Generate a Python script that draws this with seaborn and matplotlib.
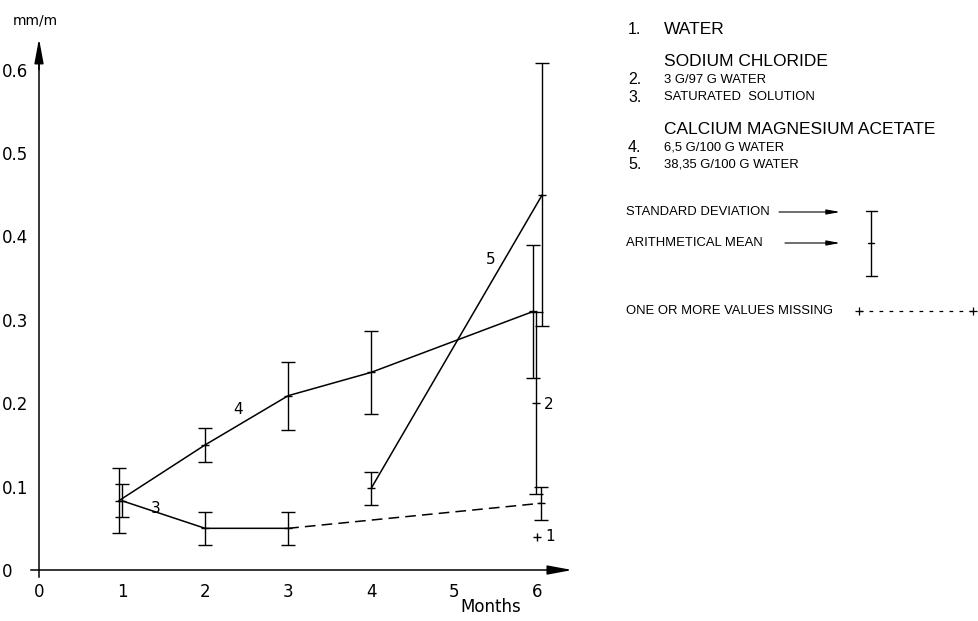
import numpy as np
import pandas as pd
import seaborn as sns
import matplotlib.pyplot as plt
from matplotlib.lines import Line2D

# values (mm/m)
# 4. calcium magnesium acetate 6,5 g/100 g water
cma_low_months = [1, 2, 3, 4, 6]
cma_low_mean = [0.083, 0.150, 0.209, 0.237, 0.310]
cma_low_sd = [0.039, 0.020, 0.041, 0.050, 0.080]

# 5. calcium magnesium acetate 38,35 g/100 g water
cma_high_months = [4, 6]
cma_high_mean = [0.098, 0.450]
cma_high_sd = [0.020, 0.158]

# 3. sodium chloride, saturated solution (values missing after month 3)
nacl_sat_months = [1, 2, 3, 6]
nacl_sat_mean = [0.083, 0.050, 0.050, 0.080]
nacl_sat_sd = [0.020, 0.020, 0.020, 0.020]

# 2. sodium chloride 3 g/97 g water
nacl_low_months = [6]
nacl_low_mean = [0.200]
nacl_low_sd = [0.109]

# 1. water
water_months = [6]
water_mean = [0.039]

x_ticks = [0, 1, 2, 3, 4, 5, 6]
y_ticks = [0, 0.1, 0.2, 0.3, 0.4, 0.5, 0.6]
y_ticklabels = ['0', '0.1', '0.2', '0.3', '0.4', '0.5', '0.6']

# small sideways shifts so bars at the same month don't overlap
dodge_m1 = {'4': -0.04, '3': 0.0}
dodge_m6 = {'4': -0.05, '2': -0.01, '1': 0.0, '3': 0.04, '5': 0.06}


def xpos(months, key):
    out = []
    for m in months:
        if m == 1:
            out.append(m + dodge_m1.get(key, 0))
        elif m == 6:
            out.append(m + dodge_m6.get(key, 0))
        else:
            out.append(m)
    return np.array(out, dtype=float)


sns.set_style('white')
plt.rcParams['font.family'] = ['DejaVu Sans']
plt.rcParams['text.color'] = 'black'

W, H = 979, 621
fig = plt.figure(figsize=(W / 100, H / 100), dpi=100)
ax = fig.add_axes([30.7 / W, (H - 576.7) / H, (572.2 - 30.7) / W, (576.7 - 38.7) / H])
ax.set_xlim(-0.1, 6.42)
ax.set_ylim(-0.008, 0.637)

lw = 1.1


def bars(x, mean, sd):
    ax.errorbar(x, mean, yerr=sd, fmt='none', ecolor='black', elinewidth=1.0,
                capsize=5, capthick=1.0)
    ax.plot(x, mean, ls='none', marker='_', ms=6, mew=1.0, color='black')


# 4
x4 = xpos(cma_low_months, '4')
sns.lineplot(x=x4, y=cma_low_mean, color='black', lw=lw, sort=False,
             estimator=None, ax=ax)
bars(x4, cma_low_mean, cma_low_sd)

# 5
x5 = xpos(cma_high_months, '5')
sns.lineplot(x=x5, y=cma_high_mean, color='black', lw=lw, sort=False,
             estimator=None, ax=ax)
bars(x5, cma_high_mean, cma_high_sd)

# 3: solid while measured, dashed where values are missing
x3 = xpos(nacl_sat_months, '3')
sns.lineplot(x=x3[:3], y=nacl_sat_mean[:3], color='black', lw=lw, sort=False,
             estimator=None, ax=ax)
sns.lineplot(x=x3[2:], y=nacl_sat_mean[2:], color='black', lw=lw, sort=False,
             estimator=None, ax=ax, linestyle=(0, (7, 4)))
bars(x3, nacl_sat_mean, nacl_sat_sd)

# 2
x2 = xpos(nacl_low_months, '2')
bars(x2, nacl_low_mean, nacl_low_sd)

# 1
x1 = xpos(water_months, '1')
ax.plot(x1, water_mean, ls='none', marker='+', ms=6, mew=1.0, color='black')

# curve numbers
lab_kw = dict(fontsize=11, ha='center', va='center', color='black')
ax.text(2.40, 0.192, '4', **lab_kw)
ax.text(1.41, 0.074, '3', **lab_kw)
ax.text(5.44, 0.372, '5', **lab_kw)
ax.text(6.14, 0.199, '2', **lab_kw)
ax.text(6.15, 0.040, '1', **lab_kw)

# axes with arrow heads
for s in ['top', 'right']:
    ax.spines[s].set_visible(False)
for s in ['left', 'bottom']:
    ax.spines[s].set_position(('data', 0))
    ax.spines[s].set_color('black')
    ax.spines[s].set_linewidth(1.1)
ax.spines['left'].set_bounds(-0.008, 0.61)
ax.spines['bottom'].set_bounds(-0.1, 6.2)
arrow = dict(arrowstyle='-|>,head_length=1.5,head_width=0.28', color='black',
             lw=1.1, shrinkA=0, shrinkB=0)
ax.annotate('', xy=(6.42, 0), xytext=(6.15, 0), arrowprops=arrow,
            annotation_clip=False)
ax.annotate('', xy=(0, 0.637), xytext=(0, 0.60), arrowprops=arrow,
            annotation_clip=False)

ax.set_xticks(x_ticks)
ax.set_yticks(y_ticks)
ax.set_yticklabels(y_ticklabels)
ax.tick_params(axis='x', direction='inout', length=8, width=1, labelsize=12,
               pad=5, colors='black')
ax.tick_params(axis='y', direction='out', length=5, width=1, labelsize=12,
               pad=22, colors='black')
for lbl in ax.get_yticklabels():
    lbl.set_horizontalalignment('left')
ax.grid(False)

fig.text(13 / W, 1 - 21 / H, 'mm/m', fontsize=10, va='center', color='black')
fig.text(491 / W, 1 - 607 / H, 'Months', fontsize=12, ha='center', va='center',
         color='black')


# key on the right
def fx(p):
    return p / W


def fy(p):
    return 1 - p / H


key_font = ['Liberation Sans', 'DejaVu Sans']
big = dict(fontsize=12.5, family=key_font, va='center', color='black')
num = dict(fontsize=11.5, family=key_font, va='center', color='black')
small = dict(fontsize=9.4, family=key_font, va='center', color='black')

fig.text(fx(628), fy(29), '1.', **num)
fig.text(fx(664), fy(29), 'WATER', **big)
fig.text(fx(664), fy(62), 'SODIUM CHLORIDE', **big)
fig.text(fx(628), fy(80), '2.', **num)
fig.text(fx(664), fy(80), '3 G/97 G WATER', **small)
fig.text(fx(628), fy(97), '3.', **num)
fig.text(fx(664), fy(97), 'SATURATED  SOLUTION', **small)
fig.text(fx(664), fy(130), 'CALCIUM MAGNESIUM ACETATE', **big)
fig.text(fx(628), fy(148), '4.', **num)
fig.text(fx(664), fy(148), '6,5 G/100 G WATER', **small)
fig.text(fx(628), fy(164), '5.', **num)
fig.text(fx(664), fy(164), '38,35 G/100 G WATER', **small)

fig.text(fx(626), fy(212), 'STANDARD DEVIATION', **small)
fig.text(fx(626), fy(243), 'ARITHMETICAL MEAN', **small)
fig.text(fx(626), fy(311), 'ONE OR MORE VALUES MISSING', **small)

key_arrow = dict(arrowstyle='-|>,head_length=0.8,head_width=0.15',
                 color='black', lw=0.8, shrinkA=0, shrinkB=0)
fig.add_artist(plt.Annotation('', xy=(fx(840), fy(212)), xytext=(fx(779), fy(212)),
                              xycoords='figure fraction', arrowprops=key_arrow))
fig.add_artist(plt.Annotation('', xy=(fx(840), fy(243)), xytext=(fx(785), fy(243)),
                              xycoords='figure fraction', arrowprops=key_arrow))

# sample error bar
fig.add_artist(Line2D([fx(871.5)] * 2, [fy(211), fy(276)], color='black', lw=1))
for yy in [211, 276]:
    fig.add_artist(Line2D([fx(866), fx(877)], [fy(yy)] * 2, color='black', lw=1))
fig.add_artist(Line2D([fx(868.5), fx(874.5)], [fy(243)] * 2, color='black', lw=1))

# sample missing-values line
fig.add_artist(Line2D([fx(859), fx(973)], [fy(311)] * 2, color='black', lw=0.9,
                      linestyle=(0, (3, 5))))
for xx in [859, 973]:
    fig.add_artist(Line2D([fx(xx)], [fy(311)], marker='+', ms=6, mew=0.9,
                          color='black'))

fig.savefig('out.png', dpi=100, facecolor='white')
